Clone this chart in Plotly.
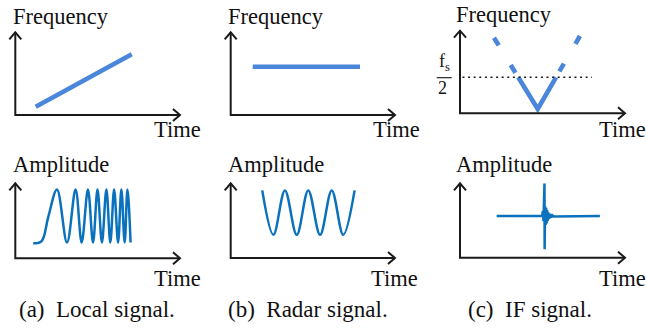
import plotly.graph_objects as go

W, H = 646, 328

# ---------------- data (axes run 0..10 in every panel) ----------------
# (a) Local signal: frequency rises linearly with time
local_f_time = [1.24, 7.07]
local_f_val = [1.0, 7.34]
# (b) Radar signal: constant frequency
radar_f_time = [1.34, 7.87]
radar_f_val = [5.84, 5.84]
# (c) IF signal: frequency folded at fs/2
half_fs = 4.36
if_solid_time = [3.53, 4.71, 5.82]
if_solid_val = [4.36, 0.52, 4.36]
if_dashL_time = [2.06, 3.53]
if_dashL_val = [9.15, 4.36]
if_dashR_time = [7.27, 5.82]
if_dashR_val = [9.36, 4.36]

# amplitude waveforms (extrema)
local_a_time = [1.09, 1.6, 2.0, 2.53, 3.14, 3.66, 4.03, 4.41, 4.72, 4.99, 5.26,
                5.53, 5.77, 6.00, 6.24, 6.44, 6.64, 6.81, 7.00]
local_a_val = [2.0, 2.3, 5.5, 9.17, 2.1, 9.17, 2.1, 9.17, 2.1, 9.17, 2.1,
               9.17, 2.1, 9.17, 2.1, 9.17, 2.1, 9.17, 2.1]
radar_a_time = [1.92, 2.60, 3.30, 4.02, 4.72, 5.44, 6.15, 6.85, 7.54]
radar_a_val = [9.05, 3.1, 9.05, 3.1, 9.05, 3.1, 9.05, 3.1, 9.05]
if_a_time = [2.22, 4.98, 5.02, 5.06, 5.12, 5.13, 5.16, 5.19, 5.22, 5.25, 5.28,
             5.31, 5.35, 5.40, 5.46, 5.52, 5.60, 5.68, 8.48]
if_a_val = [5.6, 5.6, 6.3, 4.9, 10.0, 1.13, 6.9, 4.4, 6.7, 4.6, 6.4,
            4.9, 6.1, 5.2, 5.9, 5.4, 5.7, 5.55, 5.6]

captions = ["(a)\u00a0 Local signal.", "(b)\u00a0 Radar signal.", "(c)\u00a0 IF signal."]

# ---------------- styling / layout ----------------
FONT = "Liberation Serif, Times New Roman, serif"
TXT = "#111111"
AXC = "#1a1a1a"
C_TOP = "#4a87da"
C_BOT = "#0a72bd"

# panel geometry in pixels: origin x, origin y, x tip, y tip
panels = [
    (15.3, 115.0, 180.0, 32.3),
    (230.7, 115.0, 395.0, 32.3),
    (460.0, 113.3, 625.0, 30.7),
    (15.3, 258.3, 180.0, 183.3),
    (230.7, 258.0, 395.0, 183.3),
    (460.0, 257.7, 625.0, 183.3),
]

fig = go.Figure()
layout = dict(width=W, height=H, margin=dict(l=0, r=0, t=0, b=0),
              paper_bgcolor="white", plot_bgcolor="white", showlegend=False)
shapes = []
annotations = []

for i, (ox, oy, tx, ty) in enumerate(panels):
    n = "" if i == 0 else str(i + 1)
    ax = dict(domain=[ox / W, tx / W], range=[0, 10], visible=False, fixedrange=True)
    ay = dict(domain=[1 - oy / H, 1 - ty / H], range=[0, 10], visible=False, fixedrange=True)
    layout["xaxis" + n] = dict(ax, anchor="y" + n)
    layout["yaxis" + n] = dict(ay, anchor="x" + n)
    xr, yr = "x" + n, "y" + n
    shapes.append(dict(type="path", xref=xr + " domain", yref=yr + " domain",
                       path="M 0,1 L 0,0 L 1,0", line=dict(color=AXC, width=2)))
    shapes.append(dict(type="path", xref=xr + " domain", yref=yr + " domain",
                       xsizemode="pixel", ysizemode="pixel", xanchor=0, yanchor=1,
                       path="M -6,-7 L 0,0 L 6,-7", line=dict(color=AXC, width=2)))
    shapes.append(dict(type="path", xref=xr + " domain", yref=yr + " domain",
                       xsizemode="pixel", ysizemode="pixel", xanchor=1, yanchor=0,
                       path="M -7,6 L 0,0 L -7,-6", line=dict(color=AXC, width=2)))


def add(x, y, n, color, width, dash="solid", shape="linear"):
    fig.add_trace(go.Scatter(x=x, y=y, mode="lines", xaxis="x" + n, yaxis="y" + n,
                             line=dict(color=color, width=width, dash=dash, shape=shape,
                                       smoothing=1.0 if shape == "spline" else None),
                             hoverinfo="skip"))


add(local_f_time, local_f_val, "", C_TOP, 4.6)
add(radar_f_time, radar_f_val, "2", C_TOP, 4.6)
add(if_solid_time, if_solid_val, "3", C_TOP, 4.6)
add(if_dashL_time, if_dashL_val, "3", C_TOP, 4.6, dash="9px,23px")
add(if_dashR_time, if_dashR_val, "3", C_TOP, 4.6, dash="9px,23px")
add(local_a_time, local_a_val, "4", C_BOT, 2.5, shape="spline")
add(radar_a_time, radar_a_val, "5", C_BOT, 2.5, shape="spline")
add(if_a_time, if_a_val, "6", C_BOT, 2.5)

# fs/2 dotted level
shapes.append(dict(type="line", xref="x3", yref="y3", x0=0.15, x1=8.0, y0=half_fs, y1=half_fs,
                   line=dict(color=AXC, width=1.6, dash="2px,3.6px")))
# fraction bar of fs/2
shapes.append(dict(type="line", xref="paper", yref="paper", x0=436.7 / W, x1=451.7 / W,
                   y0=1 - 77.7 / H, y1=1 - 77.7 / H, line=dict(color=TXT, width=1.1)))


def label(text, x, base, size=22.5, anchor="left"):
    annotations.append(dict(text=text, xref="paper", yref="paper", x=x / W,
                            y=1 - (base + 5.0) / H, xanchor=anchor, yanchor="bottom",
                            showarrow=False, borderpad=0,
                            font=dict(family=FONT, size=size, color=TXT)))


for (x, b) in [(12, 25), (226.7, 25), (455, 23.3)]:
    label("Frequency", x, b)
for (x, b) in [(12, 173.3), (227.3, 172.7), (455, 173.3)]:
    label("Amplitude", x, b)
for (x, b) in [(153.3, 138.3), (371.7, 138.3), (597.5, 138.0),
               (153.3, 286.7), (370.0, 286.7), (597.5, 286.7)]:
    label("Time", x, b)
for cap, cx in zip(captions, [97.3, 307.5, 530.0]):
    label(cap, cx, 318.0, size=23, anchor="center")
label("f<sub>s</sub>", 444.0, 70.0, size=18, anchor="center")
label("2", 442.0, 94.0, size=18, anchor="center")

layout["shapes"] = shapes
layout["annotations"] = annotations
fig.update_layout(**layout)
fig.write_html("out.html")
